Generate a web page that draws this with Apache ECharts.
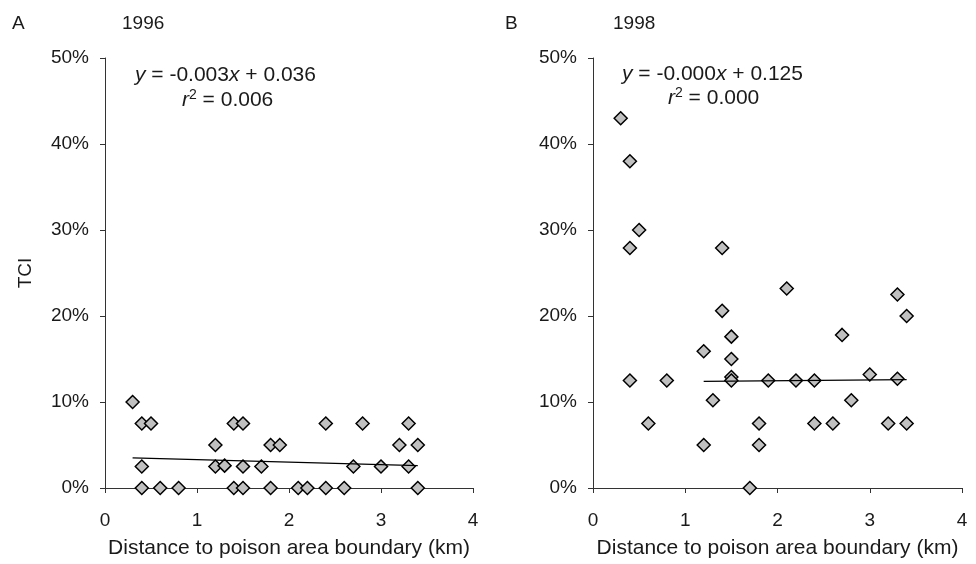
<!DOCTYPE html>
<html>
<head>
<meta charset="utf-8">
<script src="https://cdn.jsdelivr.net/npm/echarts@6/dist/echarts.min.js"></script>
<style>html,body{margin:0;padding:0;background:#fff}#c{width:976px;height:564px}</style>
</head>
<body>
<div id="c"></div>
<script>
var xTicks = [0, 1, 2, 3, 4];
var yTicks = ['0%', '10%', '20%', '30%', '40%', '50%'];

var x1996 = [0.3,0.4,0.5,0.4,0.4,0.6,0.8,1.2,1.2,1.3,1.4,1.5,1.4,1.5,1.5,1.7,1.8,1.9,1.8,2.1,2.2,2.4,2.4,2.6,2.7,2.8,3.0,3.2,3.3,3.3,3.4,3.4];
var y1996 = [0.10,0.075,0.075,0.025,0,0,0,0.05,0.025,0.026,0.075,0.075,0,0,0.025,0.025,0.05,0.05,0,0,0,0.075,0,0,0.025,0.075,0.025,0.05,0.075,0.025,0.05,0];

var x1998 = [0.3,0.4,0.4,0.5,0.4,0.8,0.6,1.2,1.2,1.3,1.4,1.4,1.5,1.5,1.5,1.5,1.7,1.8,1.8,1.9,2.1,2.2,2.4,2.4,2.6,2.7,2.8,3.0,3.2,3.3,3.3,3.4,3.4];
var y1998 = [0.43,0.38,0.279,0.30,0.125,0.125,0.075,0.159,0.05,0.102,0.279,0.206,0.176,0.15,0.129,0.125,0,0.075,0.05,0.125,0.232,0.125,0.125,0.075,0.075,0.178,0.102,0.132,0.075,0.225,0.127,0.20,0.075];

var trend1996X = [0.3, 3.4];
var trend1996Y = [0.035, 0.026];
var trend1998X = [1.2, 3.4];
var trend1998Y = [0.124, 0.126];

var panelLetters = ['A', 'B'];
var panelYears = ['1996', '1998'];
var eqLines1 = ['-0.003', '0.036', '0.006'];
var eqLines2 = ['-0.000', '0.125', '0.000'];
var xTitle = 'Distance to poison area boundary (km)';
var yTitle = 'TCI';

function pairs(xs, ys) { return xs.map(function (v, i) { return [v, ys[i]]; }); }

var FONT = 'Liberation Sans, Arial, sans-serif';
var TXT = '#1a1a1a';
var AX = '#333';

function xAxis(idx) {
  return {
    gridIndex: idx, type: 'value', min: 0, max: 4, interval: 1,
    name: xTitle, nameLocation: 'middle', nameGap: 50,
    nameTextStyle: { fontFamily: FONT, fontSize: 21, color: TXT },
    axisLine: { show: true, onZero: false, lineStyle: { color: AX, width: 1 } },
    axisTick: { show: true, inside: false, length: 5, lineStyle: { color: AX } },
    axisLabel: { margin: 23, fontFamily: FONT, fontSize: 19, color: TXT,
      formatter: function (v) { return xTicks.indexOf(v) >= 0 ? String(v) : ''; } },
    splitLine: { show: false }
  };
}
function yAxis(idx) {
  return {
    gridIndex: idx, type: 'value', min: 0, max: 0.5, interval: 0.1,
    name: idx === 0 ? yTitle : '', nameLocation: 'middle', nameGap: 70, nameRotate: 90,
    nameTextStyle: { fontFamily: FONT, fontSize: 19, color: TXT },
    axisLine: { show: true, onZero: false, lineStyle: { color: AX, width: 1 } },
    axisTick: { show: true, inside: false, length: 5, lineStyle: { color: AX } },
    axisLabel: { margin: 16, fontFamily: FONT, fontSize: 19, color: TXT,
      formatter: function (v) { return yTicks[Math.round(v * 10)]; } },
    splitLine: { show: false }
  };
}
function scatter(idx, xs, ys) {
  return {
    type: 'scatter', xAxisIndex: idx, yAxisIndex: idx, data: pairs(xs, ys),
    symbol: 'diamond', symbolSize: 13, z: 2,
    itemStyle: { color: '#c0c0c0', borderColor: '#000', borderWidth: 1.5, opacity: 1 },
    emphasis: { disabled: true }
  };
}
function trend(idx, xs, ys) {
  return {
    type: 'line', xAxisIndex: idx, yAxisIndex: idx, data: pairs(xs, ys),
    showSymbol: false, symbol: 'none', z: 3,
    lineStyle: { color: '#000', width: 1.3 }
  };
}
var rich = {
  i: { fontFamily: FONT, fontSize: 21, fontStyle: 'italic', fill: TXT },
  n: { fontFamily: FONT, fontSize: 21, fill: TXT },
  sup: { fontFamily: FONT, fontSize: 14, fill: TXT, verticalAlign: 'bottom', padding: [0, 0, 10, 0] }
};
function eq1(a) { return '{i|y}{n| = ' + a[0] + '}{i|x}{n| + ' + a[1] + '}'; }
function eq2(a) { return '{i|r}{sup|2}{n| = ' + a[2] + '}'; }

var option = {
  animation: false,
  grid: [
    { left: 105, top: 58, width: 368, height: 432 },
    { left: 593, top: 58, width: 369, height: 432 }
  ],
  xAxis: [xAxis(0), xAxis(1)],
  yAxis: [yAxis(0), yAxis(1)],
  series: [
    scatter(0, x1996, y1996), trend(0, trend1996X, trend1996Y),
    scatter(1, x1998, y1998), trend(1, trend1998X, trend1998Y)
  ],
  graphic: [
    { type: 'text', x: 12, y: 24, style: { text: panelLetters[0], fontFamily: FONT, fontSize: 19, fill: TXT, verticalAlign: 'middle' } },
    { type: 'text', x: 122, y: 24, style: { text: panelYears[0], fontFamily: FONT, fontSize: 19, fill: TXT, verticalAlign: 'middle' } },
    { type: 'text', x: 505, y: 24, style: { text: panelLetters[1], fontFamily: FONT, fontSize: 19, fill: TXT, verticalAlign: 'middle' } },
    { type: 'text', x: 613, y: 24, style: { text: panelYears[1], fontFamily: FONT, fontSize: 19, fill: TXT, verticalAlign: 'middle' } },
    { type: 'text', x: 135, y: 75, style: { text: eq1(eqLines1), rich: rich, verticalAlign: 'middle' } },
    { type: 'text', x: 182, y: 100, style: { text: eq2(eqLines1), rich: rich, verticalAlign: 'middle' } },
    { type: 'text', x: 622, y: 74, style: { text: eq1(eqLines2), rich: rich, verticalAlign: 'middle' } },
    { type: 'text', x: 668, y: 98, style: { text: eq2(eqLines2), rich: rich, verticalAlign: 'middle' } }
  ]
};
var chart = echarts.init(document.getElementById('c'), null, { renderer: 'canvas' });
chart.setOption(option);
</script>
</body>
</html>
